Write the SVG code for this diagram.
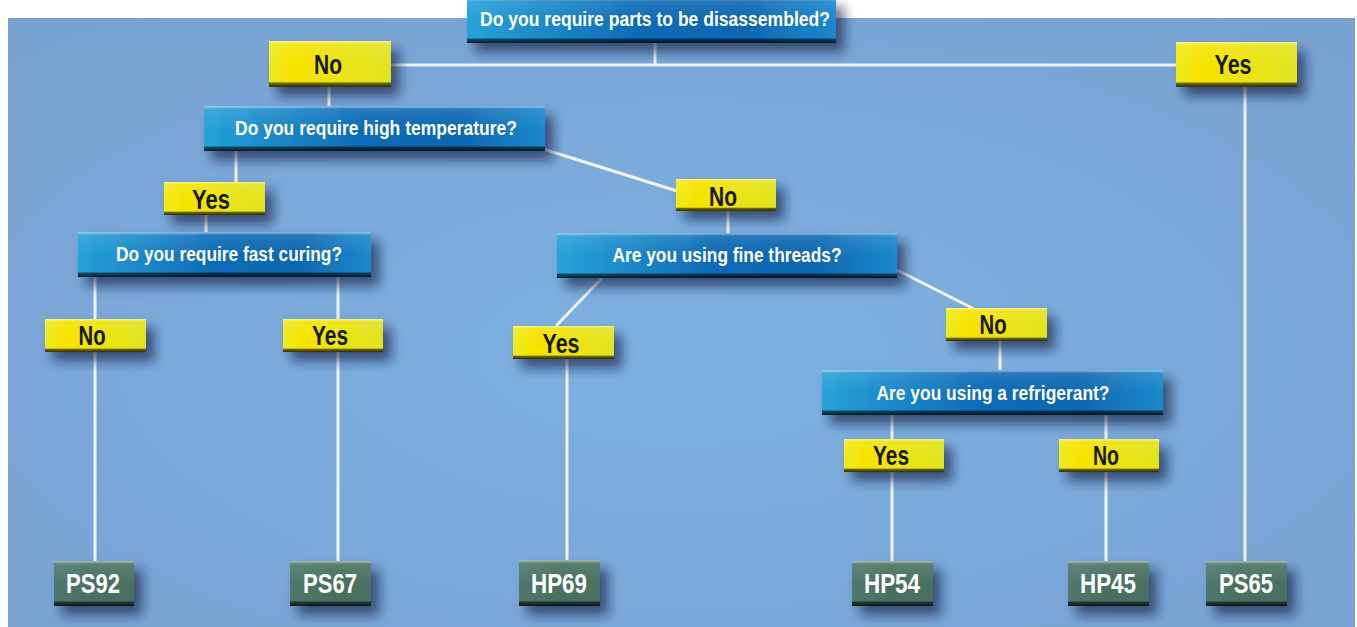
<svg xmlns="http://www.w3.org/2000/svg" width="1357" height="627" viewBox="0 0 1357 627">
<defs>
<radialGradient id="bg" cx="0.5" cy="0.55" r="0.7">
<stop offset="0" stop-color="#7db1e1"/>
<stop offset="1" stop-color="#78a2d2"/>
</radialGradient>
<linearGradient id="blue" x1="0" y1="0" x2="1" y2="0">
<stop offset="0" stop-color="#27a2d8"/>
<stop offset="0.45" stop-color="#0f6cb7"/>
<stop offset="0.75" stop-color="#0f66b0"/>
<stop offset="1" stop-color="#1a8acb"/>
</linearGradient>
<linearGradient id="yellow" x1="0" y1="0" x2="1" y2="0">
<stop offset="0" stop-color="#eeea20"/>
<stop offset="0.2" stop-color="#f6e400"/>
<stop offset="1" stop-color="#e1e322"/>
</linearGradient>
<linearGradient id="green" x1="0" y1="0" x2="1" y2="0">
<stop offset="0" stop-color="#4f786a"/>
<stop offset="0.5" stop-color="#46705f"/>
<stop offset="1" stop-color="#4a7262"/>
</linearGradient>
<linearGradient id="bevel" x1="0" y1="0" x2="0" y2="1">
<stop offset="0" stop-color="#ffffff" stop-opacity="0.55"/>
<stop offset="0.07" stop-color="#ffffff" stop-opacity="0.1"/>
<stop offset="0.5" stop-color="#ffffff" stop-opacity="0"/>
<stop offset="0.88" stop-color="#000000" stop-opacity="0"/>
<stop offset="0.92" stop-color="#000000" stop-opacity="0.55"/>
<stop offset="1" stop-color="#000000" stop-opacity="0.8"/>
</linearGradient>
<filter id="sh" x="-20%" y="-30%" width="150%" height="190%">
<feDropShadow dx="8" dy="9" stdDeviation="6" flood-color="#0c1f42" flood-opacity="0.65"/>
</filter>
<style>
.q{fill:url(#blue);filter:url(#sh)}
.y{fill:url(#yellow);filter:url(#sh)}
.g{fill:url(#green);filter:url(#sh)}
.bv{fill:url(#bevel)}
.qt{font-family:"Liberation Sans",Arial,sans-serif;font-weight:bold;font-size:21px;fill:#ffffff;text-anchor:middle}
.yt{font-family:"Liberation Sans",Arial,sans-serif;font-weight:bold;font-size:28px;fill:#1a1a1a;text-anchor:middle}
.gt{font-family:"Liberation Sans",Arial,sans-serif;font-weight:bold;font-size:28px;fill:#ffffff;text-anchor:middle}
.c line{stroke:#f2f2f2;stroke-width:3;fill:none}
</style>
</defs>
<rect x="0" y="0" width="1357" height="627" fill="#ffffff"/>
<rect x="8" y="18" width="1347" height="609" fill="url(#bg)"/>

<g id="connectors" class="c">
<line x1="655" y1="43" x2="655" y2="65"/>
<line x1="391" y1="65" x2="1176" y2="65"/>
<line x1="329" y1="87" x2="329" y2="106"/>
<line x1="1245" y1="87" x2="1245" y2="561"/>
<line x1="236" y1="150" x2="236" y2="182"/>
<line x1="543" y1="149" x2="677" y2="191"/>
<line x1="206" y1="215" x2="206" y2="232"/>
<line x1="728" y1="211" x2="728" y2="233"/>
<line x1="95" y1="277" x2="95" y2="319"/>
<line x1="338" y1="277" x2="338" y2="319"/>
<line x1="95" y1="352" x2="95" y2="561"/>
<line x1="338" y1="352" x2="338" y2="561"/>
<line x1="602" y1="278" x2="556" y2="326"/>
<line x1="897" y1="270" x2="974" y2="309"/>
<line x1="567" y1="359" x2="567" y2="561"/>
<line x1="1000" y1="341" x2="1000" y2="370"/>
<line x1="892" y1="415" x2="892" y2="439"/>
<line x1="1106" y1="415" x2="1106" y2="439"/>
<line x1="892" y1="472" x2="892" y2="561"/>
<line x1="1106" y1="472" x2="1106" y2="561"/>
</g>

<g id="q1"><rect class="q" x="467" y="-2" width="369" height="45"/><rect class="bv" x="467" y="-2" width="369" height="45"/><text class="qt" x="655" y="26" textLength="350" lengthAdjust="spacingAndGlyphs">Do you require parts to be disassembled?</text></g>
<g id="no1"><rect class="y" x="269" y="41" width="122" height="46"/><rect class="bv" x="269" y="41" width="122" height="46"/><text class="yt" x="328" y="74" textLength="28" lengthAdjust="spacingAndGlyphs">No</text></g>
<g id="yes1"><rect class="y" x="1176" y="42" width="121" height="45"/><rect class="bv" x="1176" y="42" width="121" height="45"/><text class="yt" x="1233" y="74" textLength="37" lengthAdjust="spacingAndGlyphs">Yes</text></g>
<g id="q2"><rect class="q" x="204" y="106" width="341" height="45"/><rect class="bv" x="204" y="106" width="341" height="45"/><text class="qt" x="376" y="135" textLength="282" lengthAdjust="spacingAndGlyphs">Do you require high temperature?</text></g>
<g id="yes2"><rect class="y" x="164" y="182" width="101" height="33"/><rect class="bv" x="164" y="182" width="101" height="33"/><text class="yt" x="211" y="209" textLength="38" lengthAdjust="spacingAndGlyphs">Yes</text></g>
<g id="no2"><rect class="y" x="676" y="179" width="100" height="32"/><rect class="bv" x="676" y="179" width="100" height="32"/><text class="yt" x="723" y="206" textLength="28" lengthAdjust="spacingAndGlyphs">No</text></g>
<g id="q3"><rect class="q" x="78" y="232" width="293" height="45"/><rect class="bv" x="78" y="232" width="293" height="45"/><text class="qt" x="229" y="261" textLength="226" lengthAdjust="spacingAndGlyphs">Do you require fast curing?</text></g>
<g id="q4"><rect class="q" x="557" y="233" width="340" height="45"/><rect class="bv" x="557" y="233" width="340" height="45"/><text class="qt" x="727" y="262" textLength="229" lengthAdjust="spacingAndGlyphs">Are you using fine threads?</text></g>
<g id="no3"><rect class="y" x="45" y="319" width="101" height="33"/><rect class="bv" x="45" y="319" width="101" height="33"/><text class="yt" x="92" y="345" textLength="27" lengthAdjust="spacingAndGlyphs">No</text></g>
<g id="yes3"><rect class="y" x="283" y="319" width="100" height="33"/><rect class="bv" x="283" y="319" width="100" height="33"/><text class="yt" x="330" y="345" textLength="36" lengthAdjust="spacingAndGlyphs">Yes</text></g>
<g id="yes4"><rect class="y" x="513" y="326" width="101" height="33"/><rect class="bv" x="513" y="326" width="101" height="33"/><text class="yt" x="561" y="353" textLength="37" lengthAdjust="spacingAndGlyphs">Yes</text></g>
<g id="no4"><rect class="y" x="946" y="308" width="101" height="33"/><rect class="bv" x="946" y="308" width="101" height="33"/><text class="yt" x="993" y="334" textLength="27" lengthAdjust="spacingAndGlyphs">No</text></g>
<g id="q5"><rect class="q" x="822" y="370" width="341" height="45"/><rect class="bv" x="822" y="370" width="341" height="45"/><text class="qt" x="993" y="400" textLength="233" lengthAdjust="spacingAndGlyphs">Are you using a refrigerant?</text></g>
<g id="yes5"><rect class="y" x="844" y="439" width="100" height="33"/><rect class="bv" x="844" y="439" width="100" height="33"/><text class="yt" x="891" y="465" textLength="36" lengthAdjust="spacingAndGlyphs">Yes</text></g>
<g id="no5"><rect class="y" x="1059" y="439" width="100" height="33"/><rect class="bv" x="1059" y="439" width="100" height="33"/><text class="yt" x="1106" y="465" textLength="26" lengthAdjust="spacingAndGlyphs">No</text></g>

<g id="ps92"><rect class="g" x="54" y="561" width="80" height="45"/><rect class="bv" x="54" y="561" width="80" height="45"/><text class="gt" x="93" y="593" textLength="54" lengthAdjust="spacingAndGlyphs">PS92</text></g>
<g id="ps67"><rect class="g" x="290" y="561" width="81" height="45"/><rect class="bv" x="290" y="561" width="81" height="45"/><text class="gt" x="330" y="593" textLength="54" lengthAdjust="spacingAndGlyphs">PS67</text></g>
<g id="hp69"><rect class="g" x="519" y="560" width="81" height="46"/><rect class="bv" x="519" y="560" width="81" height="46"/><text class="gt" x="559" y="593" textLength="56" lengthAdjust="spacingAndGlyphs">HP69</text></g>
<g id="hp54"><rect class="g" x="852" y="561" width="81" height="45"/><rect class="bv" x="852" y="561" width="81" height="45"/><text class="gt" x="892" y="593" textLength="56" lengthAdjust="spacingAndGlyphs">HP54</text></g>
<g id="hp45"><rect class="g" x="1068" y="561" width="81" height="45"/><rect class="bv" x="1068" y="561" width="81" height="45"/><text class="gt" x="1108" y="593" textLength="56" lengthAdjust="spacingAndGlyphs">HP45</text></g>
<g id="ps65"><rect class="g" x="1206" y="561" width="81" height="45"/><rect class="bv" x="1206" y="561" width="81" height="45"/><text class="gt" x="1246" y="593" textLength="54" lengthAdjust="spacingAndGlyphs">PS65</text></g>
</svg>
